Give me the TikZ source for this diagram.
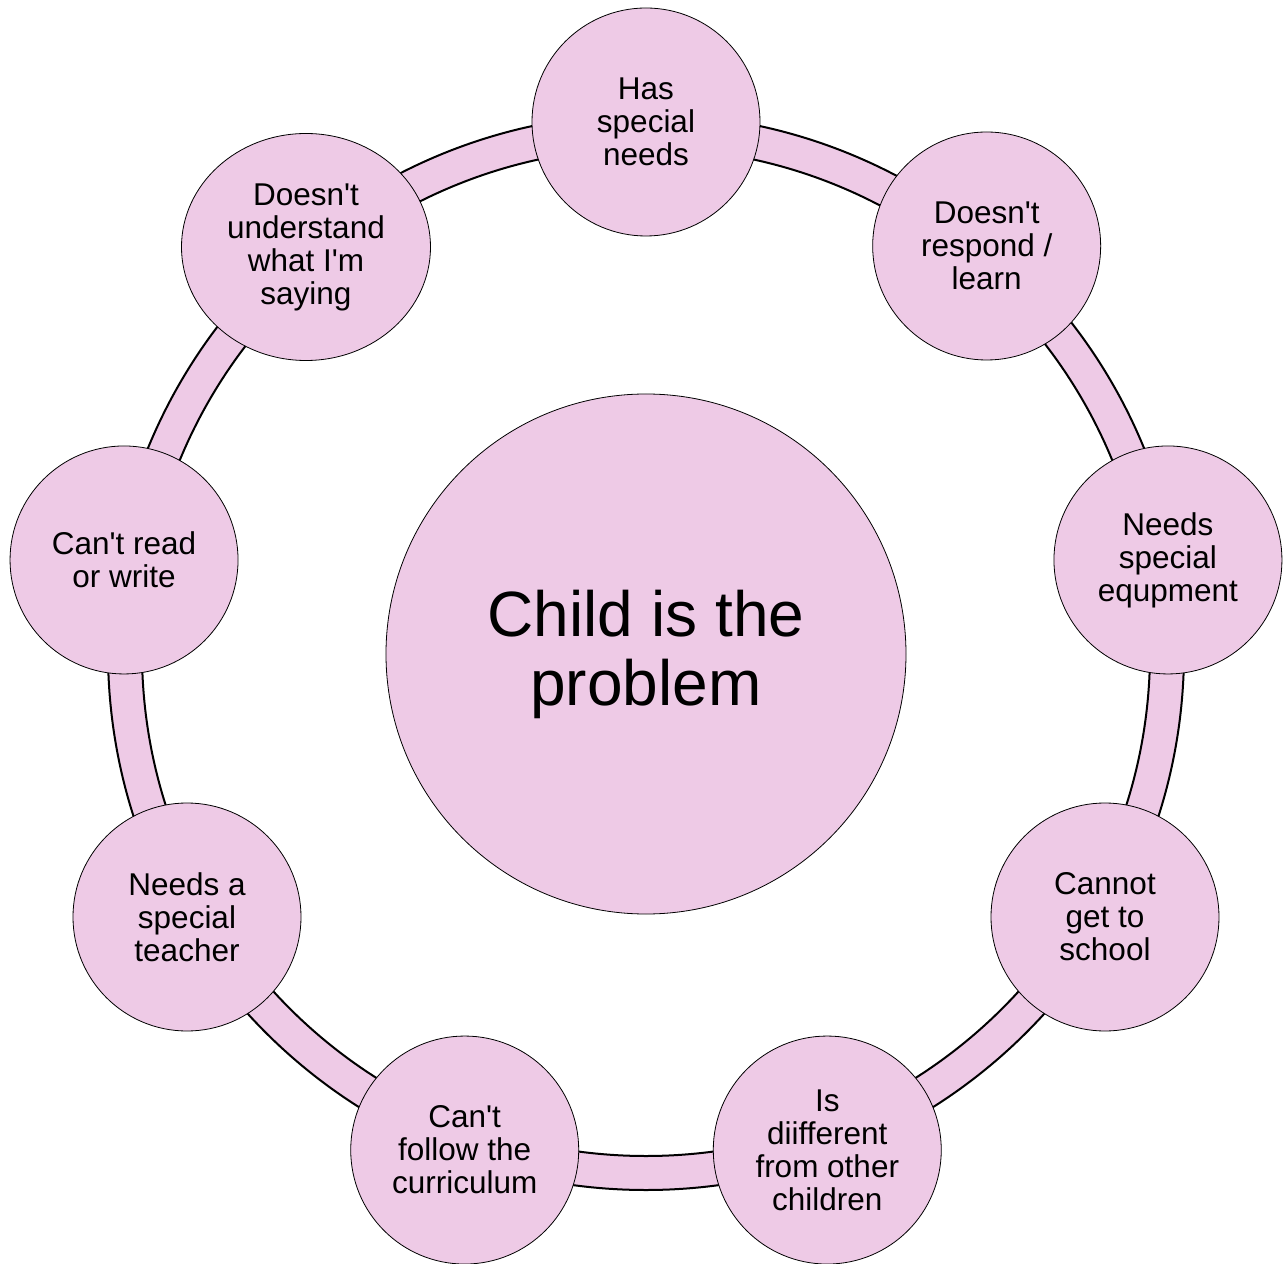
\documentclass[tikz,border=0pt]{standalone}
\usepackage{fontspec}
\usetikzlibrary{shapes.geometric}
\newfontfamily\arialf{Liberation Sans}
\definecolor{pinkfill}{RGB}{238,202,230}
\begin{document}
\begin{tikzpicture}[x=1pt,y=1pt,
  sat/.style={circle, draw=black, line width=0.8pt, fill=pinkfill, minimum size=228pt, inner sep=0pt, align=center, font=\arialf\fontsize{31.5}{33}\selectfont},
  hub/.style={circle, draw=black, line width=0.8pt, fill=pinkfill, minimum size=520pt, inner sep=0pt, align=center, font=\arialf\fontsize{64}{69}\selectfont},
  ring/.style={fill=pinkfill, draw=black, line width=2pt, even odd rule}]
\useasboundingbox (-646,-611) rectangle (641,652);
\path[ring] (0,0) circle[radius=538] (0,0) circle[radius=504];
\node[hub] (c) at (0,-2) {Child is the\\problem};
\node[sat] (n1) at (90:530) {Has\\special\\needs};
\node[sat] (n2) at (50:530) {Doesn't\\respond /\\learn};
\node[sat] (n3) at (10:530) {Needs\\special\\equpment};
\node[sat] (n4) at (-30:530) {Cannot\\get to\\school};
\node[sat] (n5) at (-70:530) {Is\\diifferent\\from other\\children};
\node[sat] (n6) at (-110:530) {Can't\\follow the\\curriculum};
\node[sat] (n7) at (-150:530) {Needs a\\special\\teacher};
\node[sat] (n8) at (170:530) {Can't read\\or write};
\node[sat, ellipse, minimum width=249pt, minimum height=227pt] (n9) at (-340,405) {Doesn't\\understand\\what I'm\\saying};
\end{tikzpicture}
\end{document}
